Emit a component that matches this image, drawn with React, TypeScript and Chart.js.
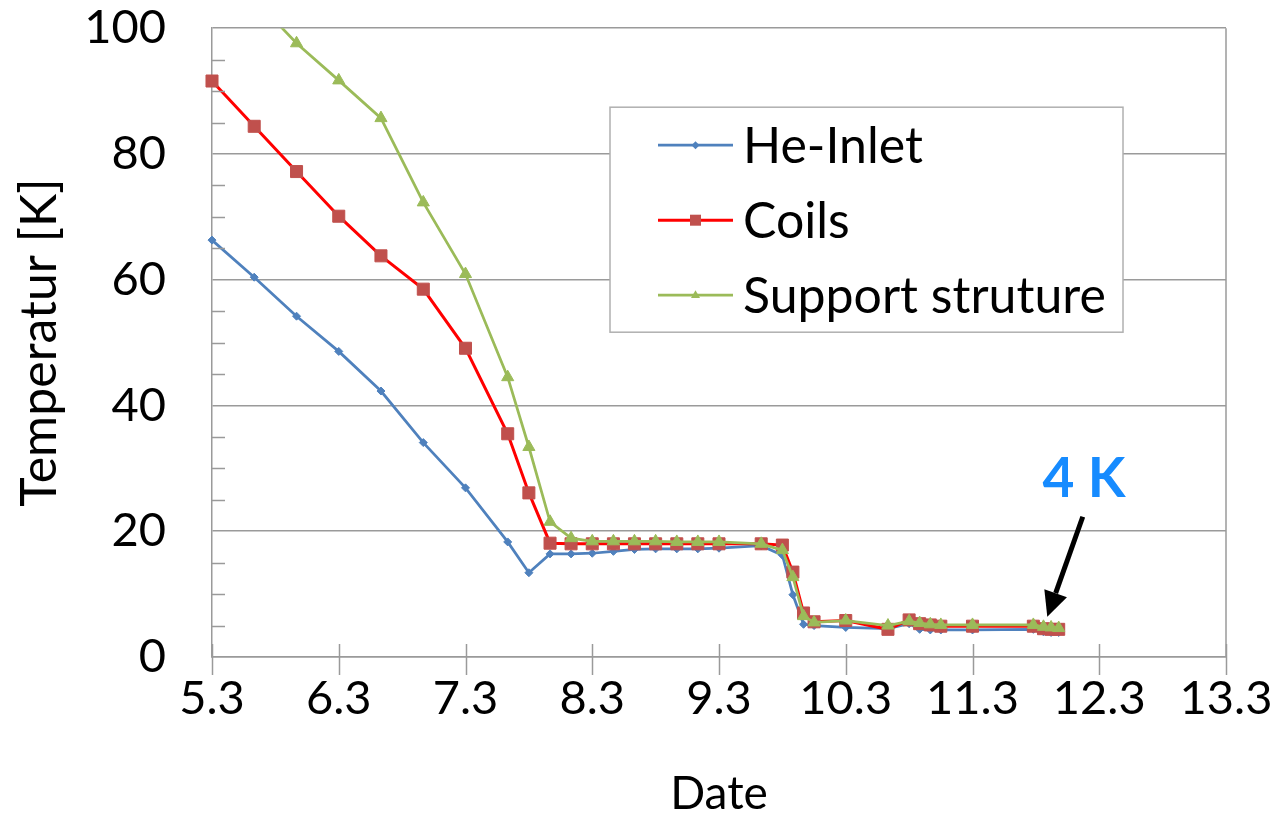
import React, { useEffect, useRef } from 'react';
import { Chart, registerables } from 'chart.js';

Chart.register(...registerables);

// ---- data ----
const DATES = [
  5.3, 5.633, 5.967, 6.3, 6.633, 6.967, 7.3, 7.633, 7.8, 7.967, 8.133, 8.3, 8.467, 8.633, 8.8, 8.967, 9.133, 9.3,
  9.633, 9.8, 9.883, 9.967, 10.05, 10.3, 10.633, 10.8, 10.883, 10.967, 11.05, 11.3, 11.78, 11.86, 11.92, 11.98,
];
const HE_INLET = [
  66.3, 60.4, 54.2, 48.6, 42.3, 34.1, 26.9, 18.3, 13.4, 16.4, 16.4, 16.5, 16.8, 17.1, 17.2, 17.2, 17.2, 17.3,
  17.7, 16.2, 9.9, 5.2, 5.0, 4.7, 4.5, 5.3, 4.4, 4.3, 4.3, 4.3, 4.4, 4.0, 3.9, 3.9,
];
const COILS = [
  91.6, 84.4, 77.2, 70.1, 63.8, 58.5, 49.1, 35.5, 26.1, 18.1, 18.0, 18.0, 18.0, 18.0, 18.0, 18.0, 18.0, 18.0,
  18.0, 17.8, 13.5, 7.0, 5.6, 5.8, 4.4, 5.9, 5.3, 5.1, 4.9, 4.9, 4.9, 4.5, 4.4, 4.4,
];
const SUPPORT = [
  null, 104.7, 97.6, 91.7, 85.7, 72.3, 60.9, 44.5, 33.4, 21.5, 18.9, 18.4, 18.4, 18.4, 18.4, 18.3, 18.3, 18.3,
  18.0, 17.0, 12.7, 6.5, 5.5, 5.8, 5.0, 5.7, 5.4, 5.2, 5.1, 5.1, 5.1, 4.8, 4.7, 4.6,
];
const SERIES_NAMES = ['He-Inlet', 'Coils', 'Support struture'];
const X_TICKS = [5.3, 6.3, 7.3, 8.3, 9.3, 10.3, 11.3, 12.3, 13.3];
const Y_TICKS = [0, 20, 40, 60, 80, 100];
const Y_MINOR = [5, 10, 15, 25, 30, 35, 45, 50, 55, 65, 70, 75, 85, 90, 95];
const ANNOT_TEXT = '4 K';
const ANNOT_POS = { x: 12.18, y: 25.4 };
const ARROW_FROM = { x: 12.17, y: 22.3 };
const ARROW_TO = { x: 11.89, y: 6.4 };

// ---- styles ----
const FONT = 'Lato, "Noto Sans", sans-serif';
const GRID = '#9a9a9a';
const BLUE = '#4F81BD';
const RED_LINE = '#FF0000';
const RED_MARK = '#C0504D';
const GREEN = '#9BBB59';

const toPts = (arr: (number | null)[]) => DATES.map((x, i) => ({ x, y: arr[i] }));

const overlay = {
  id: 'overlay',
  afterDraw(chart: any) {
    const { ctx, chartArea: a, scales } = chart;
    const x = scales.x;
    const y = scales.y;
    ctx.save();
    ctx.strokeStyle = GRID;
    ctx.lineWidth = 1.5;
    // right border
    ctx.beginPath();
    ctx.moveTo(a.right, a.top);
    ctx.lineTo(a.right, a.bottom);
    ctx.stroke();
    // y minor ticks (inside)
    for (const v of Y_MINOR) {
      const py = Math.round(y.getPixelForValue(v)) + 0.5;
      ctx.beginPath();
      ctx.moveTo(a.left, py);
      ctx.lineTo(a.left + 13, py);
      ctx.stroke();
    }
    // x ticks (cross)
    for (const v of X_TICKS) {
      const px = Math.round(x.getPixelForValue(v)) + 0.5;
      ctx.beginPath();
      ctx.moveTo(px, a.bottom - 13);
      ctx.lineTo(px, a.bottom + 18);
      ctx.stroke();
    }

    // legend
    const bx = a.left + 398;
    const by = a.top + 79;
    const bw = 513;
    const bh = 225;
    ctx.fillStyle = '#ffffff';
    ctx.fillRect(bx, by, bw, bh);
    ctx.strokeStyle = '#b0b0b0';
    ctx.lineWidth = 1.5;
    ctx.strokeRect(bx, by, bw, bh);
    const items = chart.data.datasets;
    items.forEach((ds: any, i: number) => {
      const iy = by + 38 + i * 75;
      ctx.strokeStyle = ds.borderColor;
      ctx.lineWidth = ds.borderWidth;
      ctx.beginPath();
      ctx.moveTo(bx + 48, iy);
      ctx.lineTo(bx + 123, iy);
      ctx.stroke();
      const r = ds.legendRadius;
      ctx.fillStyle = ds.pointBackgroundColor;
      ctx.beginPath();
      if (ds.pointStyle === 'rect') {
        ctx.rect(bx + 85.5 - r, iy - r, 2 * r, 2 * r);
      } else if (ds.pointStyle === 'triangle') {
        ctx.moveTo(bx + 85.5, iy - r * 1.1);
        ctx.lineTo(bx + 85.5 + r, iy + r * 0.6);
        ctx.lineTo(bx + 85.5 - r, iy + r * 0.6);
        ctx.closePath();
      } else {
        ctx.moveTo(bx + 85.5, iy - r);
        ctx.lineTo(bx + 85.5 + r, iy);
        ctx.lineTo(bx + 85.5, iy + r);
        ctx.lineTo(bx + 85.5 - r, iy);
        ctx.closePath();
      }
      ctx.fill();
      ctx.fillStyle = '#000';
      ctx.font = `50px ${FONT}`;
      ctx.textAlign = 'left';
      ctx.textBaseline = 'alphabetic';
      ctx.fillText(ds.label, bx + 133, iy + 18);
    });

    // annotation
    ctx.fillStyle = '#168BFF';
    ctx.font = `bold 55px ${FONT}`;
    ctx.textAlign = 'center';
    ctx.textBaseline = 'alphabetic';
    ctx.fillText(ANNOT_TEXT, x.getPixelForValue(ANNOT_POS.x), y.getPixelForValue(ANNOT_POS.y));

    const x1 = x.getPixelForValue(ARROW_FROM.x);
    const y1 = y.getPixelForValue(ARROW_FROM.y);
    const x2 = x.getPixelForValue(ARROW_TO.x);
    const y2 = y.getPixelForValue(ARROW_TO.y);
    const ang = Math.atan2(y2 - y1, x2 - x1);
    const headLen = 25;
    const headW = 12;
    const bxh = x2 - headLen * Math.cos(ang);
    const byh = y2 - headLen * Math.sin(ang);
    ctx.strokeStyle = '#000';
    ctx.lineWidth = 5;
    ctx.beginPath();
    ctx.moveTo(x1, y1);
    ctx.lineTo(bxh, byh);
    ctx.stroke();
    ctx.fillStyle = '#000';
    ctx.beginPath();
    ctx.moveTo(x2, y2);
    ctx.lineTo(bxh + headW * Math.sin(ang), byh - headW * Math.cos(ang));
    ctx.lineTo(bxh - headW * Math.sin(ang), byh + headW * Math.cos(ang));
    ctx.closePath();
    ctx.fill();
    ctx.restore();
  },
};

export default function App() {
  const ref = useRef<HTMLCanvasElement | null>(null);

  useEffect(() => {
    if (!ref.current) return;
    const clip = { left: 14, top: 0, right: 14, bottom: 14 };
    const chart = new Chart(ref.current, {
      type: 'line',
      data: {
        datasets: [
          {
            label: SERIES_NAMES[0],
            data: toPts(HE_INLET),
            borderColor: BLUE,
            backgroundColor: BLUE,
            pointBackgroundColor: BLUE,
            pointBorderColor: BLUE,
            borderWidth: 2.75,
            pointStyle: 'rectRot',
            pointRadius: 4,
            pointBorderWidth: 1,
            order: 2,
            clip,
            legendRadius: 4,
          } as any,
          {
            label: SERIES_NAMES[1],
            data: toPts(COILS),
            borderColor: RED_LINE,
            backgroundColor: RED_MARK,
            pointBackgroundColor: RED_MARK,
            pointBorderColor: RED_MARK,
            borderWidth: 3,
            pointStyle: 'rect',
            pointRadius: 8.5,
            pointBorderWidth: 1,
            order: 1,
            clip,
            legendRadius: 5.5,
          } as any,
          {
            label: SERIES_NAMES[2],
            data: toPts(SUPPORT),
            borderColor: GREEN,
            backgroundColor: GREEN,
            pointBackgroundColor: GREEN,
            pointBorderColor: GREEN,
            borderWidth: 2.75,
            pointStyle: 'triangle',
            pointRadius: 7,
            pointBorderWidth: 1,
            order: 0,
            clip,
            legendRadius: 4.5,
          } as any,
        ],
      },
      options: {
        animation: false,
        responsive: true,
        maintainAspectRatio: false,
        layout: { padding: { top: 28, right: 54, left: 0, bottom: 0 } },
        plugins: { legend: { display: false }, tooltip: { enabled: false } },
        elements: { line: { tension: 0 } },
        scales: {
          x: {
            type: 'linear',
            min: 5.3,
            max: 13.3,
            afterBuildTicks: (s: any) => {
              s.ticks = X_TICKS.map((v) => ({ value: v }));
            },
            afterFit: (s: any) => {
              s.height = 165;
            },
            grid: {
              display: true,
              drawOnChartArea: false,
              drawTicks: true,
              tickLength: 14,
              color: 'rgba(0,0,0,0)',
              tickColor: 'rgba(0,0,0,0)',
            },
            border: { display: true, color: GRID, width: 1.5 },
            ticks: {
              font: { family: FONT, size: 47 },
              color: '#000',
              padding: 0,
              maxRotation: 0,
              autoSkip: false,
              callback: (v: any) => Number(v).toFixed(1),
            },
            title: {
              display: true,
              text: 'Date',
              font: { family: FONT, size: 46 },
              color: '#000',
              padding: { top: -4, bottom: 0 },
            },
          },
          y: {
            type: 'linear',
            min: 0,
            max: 100,
            afterBuildTicks: (s: any) => {
              s.ticks = Y_TICKS.map((v) => ({ value: v }));
            },
            afterFit: (s: any) => {
              s.width = 212;
            },
            grid: { color: GRID, lineWidth: 1.5, drawTicks: true, tickLength: 46, tickColor: 'rgba(0,0,0,0)' },
            border: { display: true, color: GRID, width: 1.5 },
            ticks: {
              font: { family: FONT, size: 47 },
              color: '#000',
              padding: 0,
            },
            title: {
              display: true,
              text: 'Temperatur [K]',
              font: { family: FONT, size: 50 },
              color: '#000',
              padding: { top: 10, bottom: 0 },
            },
          },
        },
      } as any,
      plugins: [overlay],
    });
    return () => chart.destroy();
  }, []);

  return (
    <div style={{ position: 'fixed', left: 0, top: 0, width: 1280, height: 822, background: '#fff' }}>
      <canvas ref={ref} />
    </div>
  );
}
